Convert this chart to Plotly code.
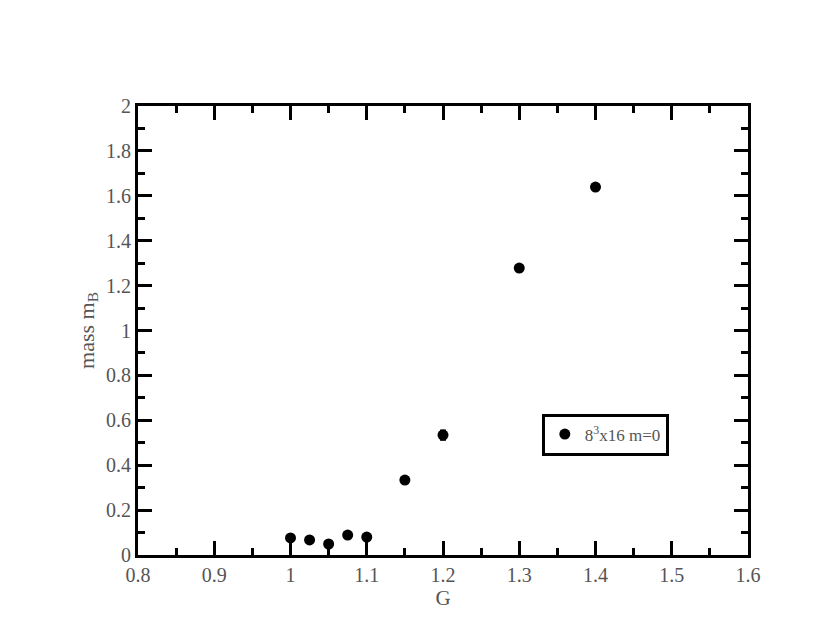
import plotly.graph_objects as go

# coupling G and measured mass m_B (8^3x16 lattice, m=0)
g_values = [1.0, 1.025, 1.05, 1.075, 1.1, 1.15, 1.2, 1.3, 1.4]
mass_values = [0.076, 0.067, 0.049, 0.089, 0.080, 0.334, 0.534, 1.278, 1.639]
mass_errors = [0.004, 0.004, 0.004, 0.006, 0.008, 0.006, 0.022, 0.006, 0.006]

x_ticks = [0.8, 0.9, 1.0, 1.1, 1.2, 1.3, 1.4, 1.5, 1.6]
x_tick_labels = ["0.8", "0.9", "1", "1.1", "1.2", "1.3", "1.4", "1.5", "1.6"]
y_ticks = [0, 0.2, 0.4, 0.6, 0.8, 1.0, 1.2, 1.4, 1.6, 1.8, 2.0]
y_tick_labels = ["0", "0.2", "0.4", "0.6", "0.8", "1", "1.2", "1.4", "1.6", "1.8", "2"]

font = "Liberation Serif, Times New Roman, serif"
text_color = "#555"

fig = go.Figure()
fig.add_trace(go.Scatter(
    x=g_values, y=mass_values,
    mode="markers",
    name="8<sup>3</sup>x16 m=0",
    marker=dict(color="black", size=11),
    error_y=dict(type="data", array=mass_errors, color="black", thickness=1.5, width=3),
))

axis_common = dict(
    showgrid=False, zeroline=False,
    showline=True, linecolor="black", linewidth=3,
    mirror="allticks",
    ticks="inside", ticklen=14, tickwidth=3, tickcolor="black",
    tickfont=dict(family=font, size=20, color=text_color),
)

fig.update_xaxes(
    range=[0.8, 1.6], tickvals=x_ticks, ticktext=x_tick_labels,
    minor=dict(ticks="inside", ticklen=7, tickwidth=3, tickcolor="black", dtick=0.05),
    title=dict(text="G", font=dict(family=font, size=21, color=text_color), standoff=4),
    **axis_common,
)
fig.update_yaxes(
    range=[0, 2], tickvals=y_ticks, ticktext=y_tick_labels,
    minor=dict(ticks="inside", ticklen=7, tickwidth=3, tickcolor="black", dtick=0.1),
    title=dict(text="mass m<sub>B</sub>", font=dict(family=font, size=22, color=text_color), standoff=6),
    **axis_common,
)

fig.update_layout(
    width=830, height=642,
    margin=dict(l=130, r=90, t=98, b=95),
    paper_bgcolor="white", plot_bgcolor="white",
    showlegend=True,
    legend=dict(
        x=0.662, y=0.315, xanchor="left", yanchor="top",
        bordercolor="black", borderwidth=3, bgcolor="white",
        font=dict(family=font, size=17, color=text_color),
        itemwidth=30,
    ),
)

fig.write_html("out.html")
